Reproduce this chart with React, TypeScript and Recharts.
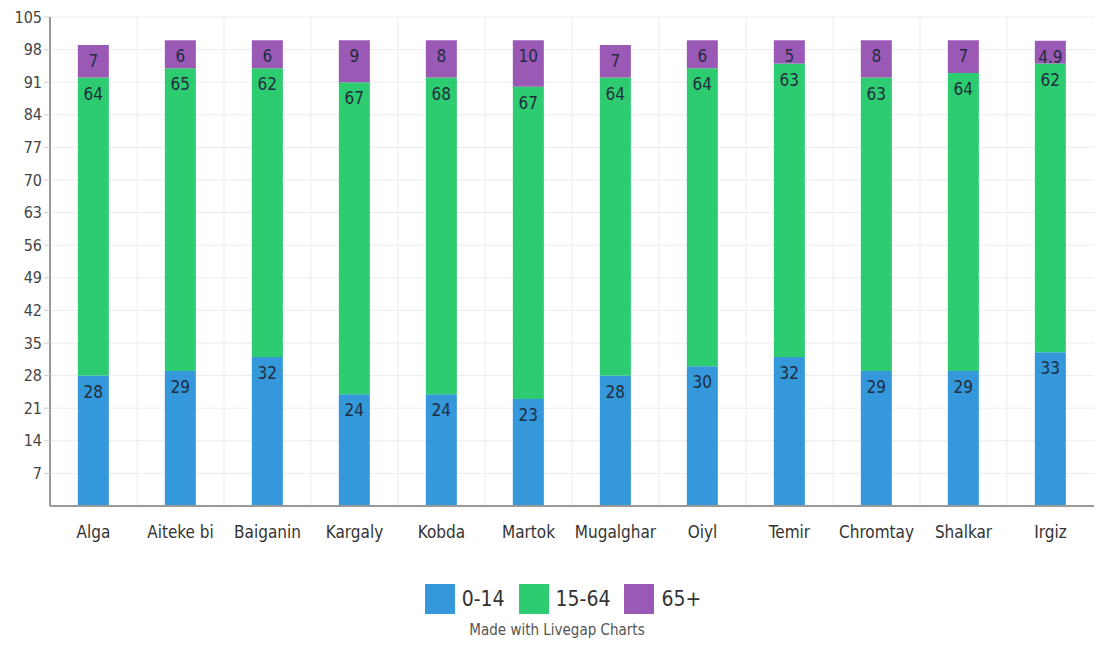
import React from "react";
import { BarChart, Bar, XAxis, YAxis, CartesianGrid, LabelList } from "recharts";

// District names along the x axis
const districts = [
  "Alga", "Aiteke bi", "Baiganin", "Kargaly", "Kobda", "Martok",
  "Mugalghar", "Oiyl", "Temir", "Chromtay", "Shalkar", "Irgiz",
];

// Share of population by age group (%)
const age0to14 = [28, 29, 32, 24, 24, 23, 28, 30, 32, 29, 29, 33];
const age15to64 = [64, 65, 62, 67, 68, 67, 64, 64, 63, 63, 64, 62];
const age65plus = [7, 6, 6, 9, 8, 10, 7, 6, 5, 8, 7, 4.9];

const yTicks = [7, 14, 21, 28, 35, 42, 49, 56, 63, 70, 77, 84, 91, 98, 105];

const series = [
  { key: "a", name: "0-14", color: "#3498db", values: age0to14 },
  { key: "b", name: "15-64", color: "#2ecc71", values: age15to64 },
  { key: "c", name: "65+", color: "#9b59b6", values: age65plus },
];

const data = districts.map((d, i) => ({
  name: d,
  a: age0to14[i],
  b: age15to64[i],
  c: age65plus[i],
}));

const FONT = "'Liberation Sans Narrow', 'DejaVu Sans Condensed', 'Roboto', sans-serif";

export default function App() {
  const n = districts.length;
  return (
    <div style={{ width: 1100, height: 646, position: "relative", fontFamily: FONT, background: "#fff" }}>
      <style>{`body{margin:0}`}</style>
      <BarChart
        width={1100}
        height={560}
        data={data}
        margin={{ top: 17, right: 6, left: 0, bottom: 0 }}
        barCategoryGap="32%"
      >
        <CartesianGrid
          stroke="#ececec"
          verticalCoordinatesGenerator={({ offset }: any) =>
            Array.from({ length: n - 1 }, (_, i) => offset.left + ((i + 1) * offset.width) / n)
          }
        />
        <XAxis
          dataKey="name"
          height={54}
          axisLine={{ stroke: "#999", strokeWidth: 2 }}
          tickLine={false}
          tick={{ fill: "#333", fontSize: 17, fontFamily: FONT }}
          tickMargin={14}
        />
        <YAxis
          width={50}
          domain={[0, 105]}
          ticks={yTicks}
          interval={0}
          axisLine={{ stroke: "#999", strokeWidth: 2 }}
          tickLine={{ stroke: "#ccc" }}
          tickSize={6}
          tick={{ fill: "#444", fontSize: 16, fontFamily: FONT }}
        />
        {series.map((s) => (
          <Bar key={s.key} dataKey={s.key} name={s.name} stackId="pop" fill={s.color} isAnimationActive={false}>
            <LabelList
              dataKey={s.key}
              position="insideTop"
              offset={10}
              fill="#1f2d3d"
              fontSize={17}
              fontFamily={FONT}
            />
          </Bar>
        ))}
      </BarChart>
      <div
        style={{
          position: "absolute",
          top: 584,
          left: 0,
          width: 1100,
          display: "flex",
          justifyContent: "center",
          alignItems: "center",
          paddingLeft: 40,
          boxSizing: "border-box",
        }}
      >
        {series.map((s) => (
          <div key={s.key} style={{ display: "flex", alignItems: "center", marginRight: 14 }}>
            <div style={{ width: 30, height: 30, background: s.color, marginRight: 7 }} />
            <span style={{ fontSize: 21, color: "#333" }}>{s.name}</span>
          </div>
        ))}
      </div>
      <div
        style={{
          position: "absolute",
          top: 621,
          left: 0,
          width: 1100,
          textAlign: "center",
          fontSize: 15,
          color: "#555",
          paddingLeft: 14,
          boxSizing: "border-box",
        }}
      >
        Made with Livegap Charts
      </div>
    </div>
  );
}
